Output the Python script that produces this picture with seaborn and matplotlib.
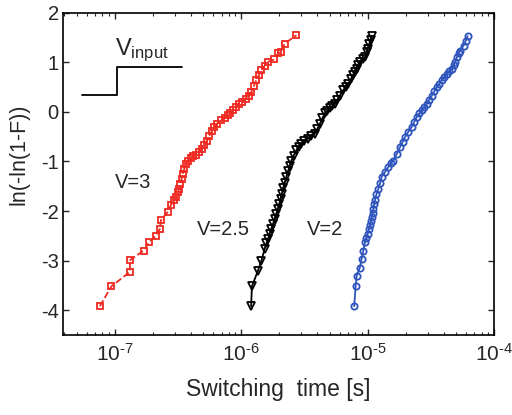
import numpy as np
import pandas as pd
import matplotlib
matplotlib.use("Agg")
import matplotlib.pyplot as plt
from matplotlib.ticker import LogLocator, FixedLocator, FuncFormatter
import seaborn as sns

# ---- data (x given as log10 of switching time in s) ----
red_log10_t = [-7.117, -7.026, -6.881, -6.878, -6.772, -6.728, -6.675, -6.643, -6.635, -6.582,
               -6.556, -6.530, -6.516, -6.500, -6.490, -6.480, -6.470, -6.463, -6.450, -6.437,
               -6.420, -6.400, -6.380, -6.357, -6.331, -6.310, -6.291, -6.270, -6.252, -6.230,
               -6.212, -6.190, -6.159, -6.130, -6.106, -6.085, -6.066, -6.040, -6.014, -5.990,
               -5.960, -5.940, -5.921, -5.900, -5.881, -5.860, -5.841, -5.815, -5.788, -5.740,
               -5.709, -5.683, -5.656, -5.563]
red_y = [-3.92, -3.52, -3.23, -2.99, -2.80, -2.63, -2.50, -2.36, -2.19, -2.02,
         -1.88, -1.78, -1.71, -1.62, -1.55, -1.45, -1.35, -1.25, -1.15, -1.05,
         -0.98, -0.93, -0.89, -0.86, -0.81, -0.75, -0.67, -0.58, -0.48, -0.39,
         -0.31, -0.24, -0.17, -0.12, -0.07, -0.02, 0.03, 0.10, 0.17, 0.21,
         0.27, 0.33, 0.40, 0.52, 0.64, 0.74, 0.84, 0.93, 1.01, 1.06,
         1.18, 1.21, 1.38, 1.55]

black_log10_t = [-5.921, -5.915, -5.868, -5.841, -5.815, -5.800, -5.788, -5.775, -5.762, -5.748,
                 -5.735, -5.722, -5.709, -5.698, -5.688, -5.678, -5.669, -5.656, -5.643, -5.630,
                 -5.616, -5.603, -5.585, -5.563, -5.545, -5.524, -5.500, -5.471, -5.445, -5.418,
                 -5.398, -5.378, -5.358, -5.339, -5.320, -5.299, -5.280, -5.259, -5.240, -5.220,
                 -5.193, -5.173, -5.153, -5.133, -5.114, -5.100, -5.087, -5.074, -5.061, -5.040,
                 -5.021, -5.008, -4.995, -4.987, -4.975, -4.968]
black_y = [-3.92, -3.52, -3.21, -3.01, -2.77, -2.65, -2.57, -2.46, -2.36, -2.26,
           -2.16, -2.05, -1.95, -1.85, -1.75, -1.65, -1.54, -1.43, -1.31, -1.20,
           -1.09, -0.98, -0.88, -0.77, -0.70, -0.64, -0.59, -0.54, -0.49, -0.44,
           -0.34, -0.24, -0.13, -0.03, 0.02, 0.07, 0.12, 0.17, 0.25, 0.33,
           0.44, 0.50, 0.57, 0.66, 0.74, 0.80, 0.87, 0.94, 1.01, 1.06,
           1.11, 1.21, 1.28, 1.38, 1.46, 1.54]

blue_log10_t = [-5.106, -5.095, -5.087, -5.061, -5.048, -5.034, -5.021, -5.010, -5.000, -4.990,
                -4.981, -4.975, -4.968, -4.960, -4.955, -4.948, -4.942, -4.930, -4.915, -4.900,
                -4.889, -4.862, -4.836, -4.816, -4.796, -4.770, -4.744, -4.724, -4.704, -4.678,
                -4.651, -4.631, -4.611, -4.591, -4.571, -4.552, -4.532, -4.512, -4.492, -4.472,
                -4.452, -4.432, -4.413, -4.393, -4.373, -4.353, -4.333, -4.320, -4.307, -4.294,
                -4.280, -4.267, -4.241, -4.225, -4.209]
blue_y = [-3.92, -3.52, -3.31, -3.14, -2.97, -2.80, -2.63, -2.54, -2.46, -2.37,
          -2.29, -2.20, -2.12, -2.03, -1.95, -1.86, -1.78, -1.66, -1.55, -1.43,
          -1.31, -1.21, -1.11, -1.04, -0.98, -0.85, -0.71, -0.61, -0.51, -0.40,
          -0.30, -0.20, -0.10, -0.03, 0.03, 0.10, 0.17, 0.25, 0.33, 0.42,
          0.50, 0.57, 0.64, 0.71, 0.77, 0.82, 0.87, 0.94, 1.01, 1.11,
          1.18, 1.24, 1.34, 1.43, 1.53]

series_labels = ["V=3", "V=2.5", "V=2"]
x_ticks = [1e-7, 1e-6, 1e-5, 1e-4]
y_ticks = [-4, -3, -2, -1, 0, 1, 2]

red_t = 10.0 ** np.array(red_log10_t)
black_t = 10.0 ** np.array(black_log10_t)
blue_t = 10.0 ** np.array(blue_log10_t)

# ---- styling ----
sns.set_style("ticks")
plt.rcParams["font.family"] = ["Liberation Sans", "DejaVu Sans"]
plt.rcParams["mathtext.fontset"] = "custom"
plt.rcParams["mathtext.rm"] = "Liberation Sans"
plt.rcParams["mathtext.it"] = "Liberation Sans:italic"
plt.rcParams["axes.unicode_minus"] = False

fig = plt.figure(figsize=(5.12, 4.15), dpi=100)
ax = fig.add_axes([0.123, 0.193, 0.842, 0.776])

red = "#ef2a22"
blue = "#2f55bd"

sns.lineplot(x=red_t, y=red_y, ax=ax, sort=False, estimator=None, color=red,
             linestyle="--", linewidth=1.3, marker="s", markersize=4.5,
             markerfacecolor="none", markeredgecolor=red, markeredgewidth=1.3)
sns.lineplot(x=black_t, y=black_y, ax=ax, sort=False, estimator=None, color="black",
             linestyle="-", linewidth=1.3, marker="v", markersize=5.5,
             markerfacecolor="none", markeredgecolor="black", markeredgewidth=1.3)
sns.lineplot(x=blue_t, y=blue_y, ax=ax, sort=False, estimator=None, color=blue,
             linestyle="-", linewidth=1.3, marker="o", markersize=4.5,
             markerfacecolor="none", markeredgecolor=blue, markeredgewidth=1.3)

ax.set_xscale("log")
ax.set_xlim(3.9e-8, 1e-4)
ax.set_ylim(-4.5, 2)
ax.xaxis.set_major_locator(FixedLocator(x_ticks))
ax.xaxis.set_minor_locator(LogLocator(base=10, subs=np.arange(2, 10)))


def pow10_label(v, pos):
    e = int(round(np.log10(v)))
    return r"10$^{\text{%d}}$" % e


ax.xaxis.set_major_formatter(FuncFormatter(pow10_label))
ax.set_yticks(y_ticks)
ax.set_yticklabels([str(v) for v in y_ticks])

ax.tick_params(which="both", direction="in", top=True, right=True, labelsize=14.5)
ax.tick_params(axis="x", which="major", labelsize=15)
ax.tick_params(which="major", length=4.5, width=1)
ax.tick_params(which="minor", length=2.5, width=0.8)
ax.tick_params(axis="x", pad=6)
ax.tick_params(axis="y", pad=3)
for s in ax.spines.values():
    s.set_linewidth(1.2)
    s.set_color("black")

ax.set_xlabel("Switching  time [s]", fontsize=16.5, labelpad=9)
ax.set_ylabel("ln(-ln(1-F))", fontsize=15.5)
ax.yaxis.set_label_coords(-0.077, 0.56)

# series annotations
ax.text(0.162, 0.472, series_labels[0], transform=ax.transAxes, fontsize=14.5,
        ha="center", va="center")
ax.text(0.371, 0.326, series_labels[1], transform=ax.transAxes, fontsize=14.5,
        ha="center", va="center")
ax.text(0.608, 0.326, series_labels[2], transform=ax.transAxes, fontsize=14.5,
        ha="center", va="center")

# input step inset
ax.plot([0.044, 0.125, 0.125, 0.276], [0.745, 0.745, 0.832, 0.832],
        transform=ax.transAxes, color="black", linewidth=1.3)
ax.text(0.121, 0.870, r"V$_{\mathrm{input}}$", transform=ax.transAxes, fontsize=17,
        ha="left", va="baseline")

fig.savefig("out.png", dpi=100)
